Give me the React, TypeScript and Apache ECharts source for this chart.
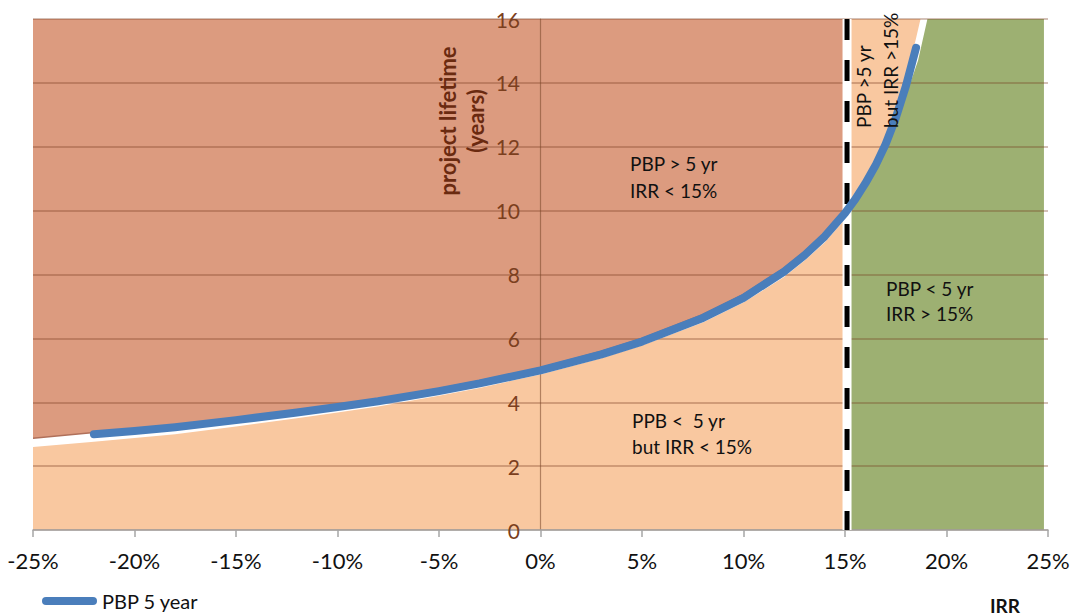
import { useEffect, useRef } from 'react';
import * as echarts from 'echarts';

// Axes
const X_MIN = -25;
const X_MAX = 25;
const X_STEP = 5;
const Y_MIN = 0;
const Y_MAX = 16;
const Y_STEP = 2;

// Threshold IRR (dashed line)
const IRR_LIMIT = 15.1;

// Blue curve "PBP 5 year": IRR (%) vs project lifetime (years)
const curveIrr = [-22, -20, -18, -15, -12, -10, -8, -5, -3, 0, 3, 5, 8, 10, 12, 13, 14, 15, 15.5, 16, 16.5, 17, 17.5, 18, 18.25, 18.5];
const curveYears = [3.0, 3.1, 3.22, 3.44, 3.68, 3.85, 4.03, 4.35, 4.59, 5.0, 5.5, 5.9, 6.64, 7.27, 8.09, 8.6, 9.19, 9.92, 10.35, 10.85, 11.41, 12.08, 12.9, 13.9, 14.5, 15.1];

// Left regions (IRR < 15%)
const leftIrr = [-25, -22, -20, -18, -15, -12, -10, -8, -5, -3, 0, 3, 5, 8, 10, 12, 13, 14, 15];
const darkLower = [2.87, 3.05, 3.15, 3.27, 3.5, 3.74, 3.92, 4.1, 4.43, 4.67, 5.08, 5.6, 6.0, 6.75, 7.38, 8.2, 8.72, 9.3, 10.02];
const peachUpper = [2.6, 2.76, 2.88, 3.0, 3.24, 3.5, 3.68, 3.87, 4.2, 4.45, 4.87, 5.38, 5.78, 6.5, 7.12, 7.92, 8.43, 9.0, 9.73];

// Right regions (IRR > 15%)
const peachRightIrr = [15, 15.5, 16, 16.5, 17, 17.5, 18, 18.5, 18.72];
const peachRightLower = [10.0, 10.45, 11.0, 11.55, 12.3, 13.1, 14.1, 15.4, 16];
const greenIrr = [15, 15.5, 16, 16.5, 17, 17.5, 18, 18.6, 19.06, 24.8];
const greenUpper = [9.85, 10.25, 10.7, 11.25, 11.9, 12.65, 13.6, 14.7, 16, 16];

const SERIES_NAME = 'PBP 5 year';

const FONT = 'Lato, "Open Sans", sans-serif';

function zip(xs: number[], ys: number[]) {
  return xs.map((x, i) => [x, ys[i]]);
}

export default function App() {
  const ref = useRef<HTMLDivElement>(null);

  useEffect(() => {
    if (!ref.current) return;
    const chart = echarts.init(ref.current, null, { renderer: 'svg' });

    const areaBase = {
      type: 'line',
      symbol: 'none',
      silent: true,
      z: 1,
    };

    const text = (x: number, y: number, t: string, extra: any = {}) => ({
      type: 'text',
      x,
      y,
      z: 10,
      ...extra,
      style: {
        text: t,
        fill: '#111',
        font: `19px ${FONT}`,
        align: 'left',
        verticalAlign: 'middle',
        ...(extra.style || {}),
      },
    });

    chart.setOption({
      animation: false,
      backgroundColor: '#ffffff',
      grid: {
        left: 33,
        right: 28,
        top: 19,
        bottom: 86,
        containLabel: false,
        outerBoundsMode: 'none',
      },
      legend: {
        data: [{ name: SERIES_NAME, icon: 'path://M4,0 H51 A4,4 0 0 1 51,8 H4 A4,4 0 0 1 4,0 Z' }],
        left: 37,
        top: 586,
        itemWidth: 55,
        itemHeight: 8,
        textStyle: { fontFamily: FONT, fontSize: 20, color: '#111' },
      },
      xAxis: {
        type: 'value',
        min: X_MIN,
        max: X_MAX,
        interval: X_STEP,
        z: 3,
        axisLine: { onZero: true, lineStyle: { color: '#a6a6a6', width: 1.5 } },
        axisTick: { show: true, length: 7, lineStyle: { color: '#a6a6a6', width: 1.5 } },
        axisLabel: {
          formatter: (v: number) => `${v}%`,
          fontFamily: FONT,
          fontSize: 22,
          color: '#111',
          margin: 19,
        },
        splitLine: { show: false },
      },
      yAxis: {
        type: 'value',
        min: Y_MIN,
        max: Y_MAX,
        interval: Y_STEP,
        z: 3,
        offset: -507,
        axisLine: { show: true, onZero: false, lineStyle: { color: 'rgba(120,70,40,0.55)', width: 1.2 } },
        axisTick: { show: false },
        axisLabel: {
          fontFamily: FONT,
          fontSize: 21,
          color: '#7b3f1e',
          margin: 20,
        },
        splitLine: { show: true, lineStyle: { color: 'rgba(120,60,30,0.42)', width: 1.5 } },
      },
      series: [
        {
          ...areaBase,
          name: 'dark',
          data: zip(leftIrr, darkLower),
          lineStyle: { color: '#b0705a', width: 1.5 },
          areaStyle: { color: '#DC9B7F', origin: 'end', opacity: 1 },
        },
        {
          ...areaBase,
          name: 'peach',
          data: zip(leftIrr, peachUpper),
          lineStyle: { width: 0 },
          areaStyle: { color: '#F9C8A0', origin: 'start', opacity: 1 },
        },
        {
          ...areaBase,
          name: 'peachRight',
          data: zip(peachRightIrr, peachRightLower),
          lineStyle: { width: 0 },
          areaStyle: { color: '#F9C8A0', origin: 'end', opacity: 1 },
        },
        {
          ...areaBase,
          name: 'green',
          data: zip(greenIrr, greenUpper),
          lineStyle: { width: 0 },
          areaStyle: { color: '#9DB072', origin: 'start', opacity: 1 },
        },
        {
          type: 'line',
          name: 'band',
          symbol: 'none',
          silent: true,
          z: 4,
          data: [
            [IRR_LIMIT, Y_MIN],
            [IRR_LIMIT, Y_MAX],
          ],
          lineStyle: { color: '#ffffff', width: 9 },
        },
        {
          type: 'line',
          name: 'dash',
          symbol: 'none',
          silent: true,
          z: 4,
          data: [
            [IRR_LIMIT, Y_MAX],
            [IRR_LIMIT, Y_MIN],
          ],
          lineStyle: { color: '#000000', width: 5, type: [21, 20] },
        },
        {
          type: 'line',
          name: SERIES_NAME,
          symbol: 'none',
          z: 5,
          color: '#4A7EBB',
          data: zip(curveIrr, curveYears),
          lineStyle: { color: '#4A7EBB', width: 8, cap: 'round', join: 'round' },
        },
      ],
      graphic: [
        text(630, 163, 'PBP > 5 yr'),
        text(630, 190, 'IRR < 15%'),
        text(632, 420, 'PPB <  5 yr'),
        text(632, 446, 'but IRR < 15%'),
        text(886, 288, 'PBP < 5 yr'),
        text(886, 313, 'IRR > 15%'),
        text(863, 128, 'PBP >5 yr', { rotation: Math.PI / 2, style: { font: `19px ${FONT}` } }),
        text(890, 128, 'but IRR >15%', { rotation: Math.PI / 2, style: { font: `19px ${FONT}` } }),
        text(447, 121, 'project lifetime', {
          rotation: Math.PI / 2,
          style: { font: `bold 22px ${FONT}`, fill: '#6a2a10', align: 'center' },
        }),
        text(475, 121, '(years)', {
          rotation: Math.PI / 2,
          style: { font: `bold 22px ${FONT}`, fill: '#6a2a10', align: 'center' },
        }),
        text(1005, 605, 'IRR', {
          style: { font: `bold 19px ${FONT}`, fill: '#111', align: 'center' },
        }),
      ],
    });

    return () => chart.dispose();
  }, []);

  return (
    <div
      ref={ref}
      style={{ position: 'fixed', left: 0, top: 0, width: 1076, height: 616 }}
    />
  );
}
